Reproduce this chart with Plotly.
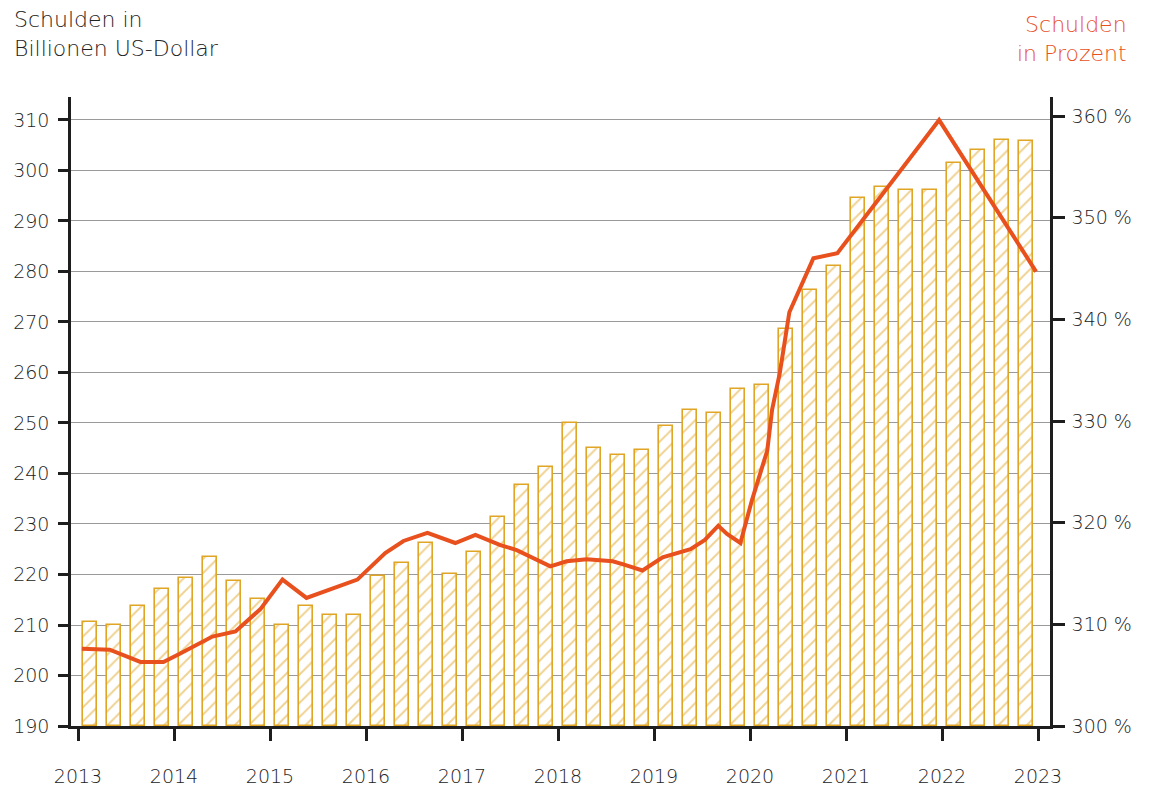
import plotly.graph_objects as go

# ---- data ----
bar_years = [2013]*4 + [2014]*4 + [2015]*4 + [2016]*4 + [2017]*4 + [2018]*4 + [2019]*4 + [2020]*4 + [2021]*4 + [2022]*4
bar_quarters = [1, 2, 3, 4] * 10
debt_bn = [210.5, 210.0, 213.8, 217.2, 219.3, 223.4, 218.7, 215.1,
           210.0, 213.8, 211.9, 211.9, 219.7, 222.3, 226.2, 220.1,
           224.5, 231.4, 237.8, 241.3, 250.0, 245.0, 243.7, 244.6,
           249.5, 252.6, 251.9, 256.7, 257.6, 268.6, 276.3, 281.1,
           294.6, 296.7, 296.2, 296.2, 301.5, 304.0, 306.1, 305.9]

pct_time = [2013.04, 2013.33, 2013.65, 2013.89, 2014.06, 2014.40, 2014.64, 2014.90,
            2015.13, 2015.38, 2015.91, 2016.20, 2016.39, 2016.64, 2016.93, 2017.14,
            2017.40, 2017.57, 2017.92, 2018.09, 2018.30, 2018.57, 2018.68, 2018.88,
            2019.09, 2019.38, 2019.53, 2019.67, 2019.76, 2019.90, 2020.02, 2020.18,
            2020.23, 2020.31, 2020.37, 2020.41, 2020.66, 2020.91, 2021.97, 2022.98]
debt_pct = [307.6, 307.5, 306.3, 306.3, 307.1, 308.8, 309.3, 311.5,
            314.4, 312.6, 314.4, 317.0, 318.2, 319.0, 318.0, 318.8,
            317.8, 317.3, 315.7, 316.2, 316.4, 316.2, 315.9, 315.3,
            316.6, 317.4, 318.3, 319.7, 318.9, 318.0, 322.2, 327.1,
            331.1, 334.7, 338.3, 340.7, 346.0, 346.5, 359.6, 344.7]

year_ticks = list(range(2013, 2024))
left_ticks = list(range(190, 311, 10))
right_ticks = list(range(300, 361, 10))
right_labels = [f"{v} %" for v in right_ticks]

# ---- styling ----
FONT = "DejaVu Sans"
TEXT = "#222222"
GOLD = "#E0A525"
RED = "#E8501E"
AXIS = "#1e1e1e"

bar_x = [y + (q - 0.5) / 4 for y, q in zip(bar_years, bar_quarters)]

fig = go.Figure()
fig.add_trace(go.Bar(
    x=bar_x, y=[v - 190 for v in debt_bn], base=190, width=0.155,
    marker=dict(color="white",
                line=dict(color=GOLD, width=1.6),
                pattern=dict(shape="/", fgcolor=GOLD, bgcolor="white",
                             size=10, solidity=0.2)),
    hoverinfo="skip", showlegend=False,
))
fig.add_trace(go.Scatter(
    x=pct_time, y=debt_pct, yaxis="y2", mode="lines",
    line=dict(color=RED, width=4), hoverinfo="skip", showlegend=False,
))

tick_font = dict(size=19, color=TEXT, family=FONT, weight=200)

fig.update_layout(
    width=1152, height=791,
    margin=dict(l=71, r=102, t=97, b=65, autoexpand=False),
    paper_bgcolor="white", plot_bgcolor="white",
    font=dict(family=FONT, size=19, color=TEXT, weight=200),
    bargap=0,
    xaxis=dict(range=[2012.927, 2023.125], tickvals=year_ticks,
               ticks="outside", ticklen=12, tickwidth=2.5, tickcolor=AXIS,
               showline=True, linewidth=2.5, linecolor=AXIS,
               showgrid=False, zeroline=False, ticklabelstandoff=19,
               automargin=False, tickfont=tick_font),
    yaxis=dict(range=[190, 314.55], tickvals=left_ticks,
               ticks="outside", ticklen=10, tickwidth=2.5, tickcolor=AXIS,
               showline=True, linewidth=2.5, linecolor=AXIS,
               showgrid=True, gridcolor="rgba(120,120,120,0.75)", gridwidth=1.2,
               zeroline=False, ticklabelstandoff=5,
               automargin=False, tickfont=tick_font),
    yaxis2=dict(range=[300, 361.87], tickvals=right_ticks, ticktext=right_labels,
                overlaying="y", side="right",
                ticks="outside", ticklen=12, tickwidth=2.5, tickcolor=AXIS,
                showline=True, linewidth=2.5, linecolor=AXIS,
                showgrid=False, zeroline=False, ticklabelstandoff=3,
                automargin=False, tickfont=tick_font),
    annotations=[
        dict(text="Schulden in<br>Billionen US-Dollar", xref="paper", yref="paper",
             x=-0.0603, y=1.146, xanchor="left", yanchor="top", align="left",
             showarrow=False, font=dict(size=22, color=TEXT, family=FONT, weight=200)),
        dict(text="Schulden<br>in Prozent", xref="paper", yref="paper",
             x=1.0807, y=1.138, xanchor="right", yanchor="top", align="right",
             showarrow=False, font=dict(size=22, color=RED, family=FONT, weight=200)),
    ],
)

fig.write_html("out.html", config={"displayModeBar": False},
               post_script="document.body.style.margin='0';")
